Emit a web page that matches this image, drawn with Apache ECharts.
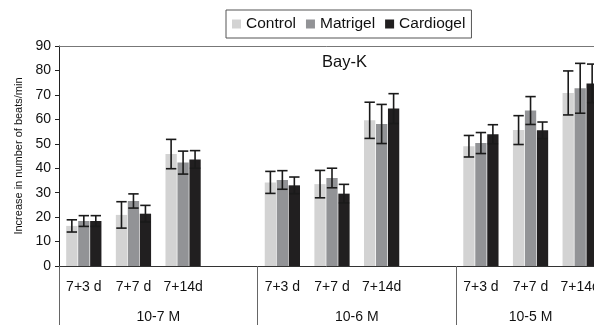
<!DOCTYPE html>
<html>
<head>
<meta charset="utf-8">
<script src="https://cdn.jsdelivr.net/npm/echarts@6/dist/echarts.min.js"></script>
<style>
html,body{margin:0;padding:0;background:#fff;}
#chart{width:594px;height:325px;}
</style>
</head>
<body>
<div id="chart"></div>
<script>
// categories (empty slot between concentration groups)
var categories = ['7+3 d', '7+7 d', '7+14d', '', '7+3 d', '7+7 d', '7+14d', '', '7+3 d', '7+7 d', '7+14d'];
var groupNames = ['10-7 M', '10-6 M', '10-5 M'];
var groupSizes = [4, 4, 3];

var controlData   = [16.4, 20.9, 45.8, null, 34.2, 33.5, 59.6, null, 49.0, 55.6, 70.8];
var controlErr    = [2.5, 5.4, 6.0, null, 4.5, 5.6, 7.4, null, 4.4, 5.9, 9.0];
var matrigelData  = [18.4, 26.6, 42.3, null, 35.2, 36.0, 58.1, null, 50.3, 63.6, 72.7];
var matrigelErr   = [2.2, 2.9, 4.7, null, 3.8, 4.0, 8.0, null, 4.3, 5.7, 10.2];
var cardiogelData = [18.4, 21.4, 43.6, null, 33.0, 29.6, 64.4, null, 53.9, 55.5, 74.7];
var cardiogelErr  = [2.2, 3.4, 3.6, null, 3.4, 3.8, 6.1, null, 3.9, 3.4, 7.9];

var yTicks = [0, 90, 10]; // min, max, interval

var font = 'Liberation Sans, Arial, sans-serif';
var catGap = 0.29;
var barGap = 0.06;

// group boundaries and centres on the secondary axis
var bounds = [0];
groupSizes.forEach(function (n, i) {
    bounds.push(bounds[i] + n);
});
var centres = groupSizes.map(function (n, i) {
    return bounds[i] + n / 2;
});

function errSeries(name, vals, errs, k) {
    var data = [];
    vals.forEach(function (v, i) {
        if (v != null) data.push([i, v, errs[i]]);
    });
    return {
        name: name + ' err',
        type: 'custom',
        z: 10,
        silent: true,
        encode: {x: 0, y: 1},
        data: data,
        renderItem: function (params, api) {
            var idx = api.value(0), mean = api.value(1), e = api.value(2);
            var band = api.size([1, 0])[0];
            var bw = band * (1 - catGap) / (3 + 2 * barGap);
            var c = api.coord([idx, mean]);
            var x = c[0] + (k - 1) * bw * (1 + barGap);
            var hi = api.coord([idx, mean + e])[1];
            var lo = api.coord([idx, mean - e])[1];
            var cap = bw * 0.46;
            var st = {stroke: '#1a1a1a', lineWidth: 1.6};
            return {
                type: 'group',
                children: [
                    {type: 'line', shape: {x1: x, y1: hi, x2: x, y2: lo}, style: st},
                    {type: 'line', shape: {x1: x - cap, y1: hi, x2: x + cap, y2: hi}, style: st},
                    {type: 'line', shape: {x1: x - cap, y1: lo, x2: x + cap, y2: lo}, style: st}
                ]
            };
        }
    };
}

var chart = echarts.init(document.getElementById('chart'));
chart.setOption({
    animation: false,
    backgroundColor: '#fff',
    color: ['#d3d3d3', '#929396', '#211f20'],
    textStyle: {fontFamily: font},
    legend: {
        data: ['Control', 'Matrigel', 'Cardiogel'],
        left: 226,
        top: 10,
        padding: [6, 6],
        itemWidth: 9,
        itemHeight: 9,
        itemGap: 10,
        borderColor: '#555',
        borderWidth: 1,
        borderRadius: 0,
        icon: 'rect',
        textStyle: {fontSize: 15.5, color: '#111', fontFamily: font}
    },
    title: {
        text: 'Bay-K',
        left: 322,
        top: 54,
        padding: 0,
        textStyle: {fontSize: 16.5, fontWeight: 'normal', color: '#111', fontFamily: font}
    },
    grid: {left: 59, top: 46, width: 546, bottom: 59, outerBoundsMode: 'none', containLabel: false},
    xAxis: [{
        type: 'category',
        data: categories,
        axisLine: {lineStyle: {color: '#333', width: 1}},
        axisTick: {interval: 0, length: 30, lineStyle: {color: '#333'}},
        axisLabel: {interval: 0, margin: 14, fontSize: 14, color: '#111', fontFamily: font}
    }, {
        type: 'value',
        position: 'bottom',
        min: 0,
        max: categories.length,
        splitLine: {show: false},
        axisLine: {show: false},
        axisTick: {show: true, length: 60, customValues: bounds, lineStyle: {color: '#666'}},
        axisLabel: {
            margin: 44, fontSize: 14, color: '#111', fontFamily: font,
            customValues: centres,
            formatter: function (v) {
                var i = centres.indexOf(v);
                return i >= 0 ? groupNames[i] : '';
            }
        }
    }, {
        type: 'value',
        position: 'top',
        min: 0,
        max: categories.length,
        splitLine: {show: false},
        axisLine: {show: true, lineStyle: {color: '#777', width: 1}},
        axisTick: {show: false},
        axisLabel: {show: false}
    }],
    yAxis: {
        type: 'value',
        min: yTicks[0],
        max: yTicks[1],
        interval: yTicks[2],
        name: 'Increase in number of beats/min',
        nameLocation: 'middle',
        nameGap: 33,
        nameRotate: 90,
        nameTextStyle: {fontSize: 11, color: '#111', fontFamily: font},
        splitLine: {show: false},
        axisLine: {show: true, lineStyle: {color: '#222', width: 1}},
        axisTick: {show: true, length: 4, lineStyle: {color: '#222'}},
        axisLabel: {fontSize: 14, color: '#111', margin: 8, fontFamily: font}
    },
    series: [
        {name: 'Control', type: 'bar', data: controlData, barGap: (barGap * 100) + '%', barCategoryGap: (catGap * 100) + '%'},
        {name: 'Matrigel', type: 'bar', data: matrigelData},
        {name: 'Cardiogel', type: 'bar', data: cardiogelData},
        errSeries('Control', controlData, controlErr, 0),
        errSeries('Matrigel', matrigelData, matrigelErr, 1),
        errSeries('Cardiogel', cardiogelData, cardiogelErr, 2)
    ]
});
</script>
</body>
</html>
